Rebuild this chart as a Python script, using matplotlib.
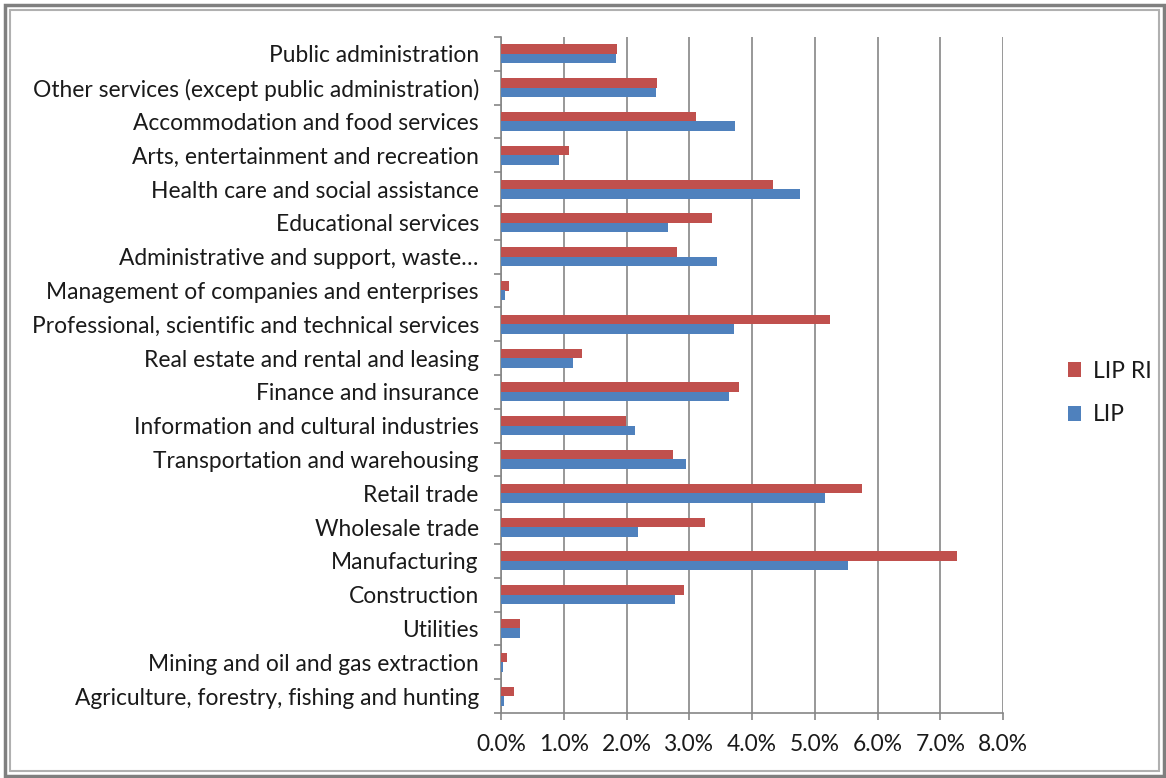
import matplotlib
matplotlib.use("Agg")
import matplotlib.pyplot as plt
import numpy as np
from matplotlib.patches import Rectangle
from matplotlib.ticker import FuncFormatter, FixedLocator

# Industry share (%), listed from top of chart to bottom
industries = [
    "Public administration",
    "Other services (except public administration)",
    "Accommodation and food services",
    "Arts, entertainment and recreation",
    "Health care and social assistance",
    "Educational services",
    "Administrative and support, waste\u2026",
    "Management of companies and enterprises",
    "Professional, scientific and technical services",
    "Real estate and rental and leasing",
    "Finance and insurance",
    "Information and cultural industries",
    "Transportation and warehousing",
    "Retail trade",
    "Wholesale trade",
    "Manufacturing",
    "Construction",
    "Utilities",
    "Mining and oil and gas extraction",
    "Agriculture, forestry, fishing and hunting",
]
lip_ri = [1.85, 2.49, 3.10, 1.08, 4.34, 3.37, 2.81, 0.12, 5.24, 1.29,
          3.79, 1.99, 2.74, 5.75, 3.25, 7.26, 2.91, 0.31, 0.10, 0.20]
lip = [1.83, 2.47, 3.73, 0.93, 4.77, 2.66, 3.45, 0.06, 3.72, 1.14,
       3.64, 2.13, 2.95, 5.17, 2.19, 5.53, 2.78, 0.31, 0.03, 0.04]
x_ticks = np.arange(0, 9)

RED = "#C0504D"
BLUE = "#4F81BD"
GRID = "#868686"
TEXT = "#1a1a1a"
FS = 16.4

plt.rcParams["font.family"] = ["Lato", "DejaVu Sans"]

fig = plt.figure(figsize=(11.66, 7.78), dpi=100)
W, H = 1166, 778
ax = fig.add_axes([501 / W, 1 - 713 / H, (1003 - 501) / W, (713 - 37) / H])

n = len(industries)
pos = np.arange(n)[::-1]
h = 0.28
ax.barh(pos + h / 2, lip_ri, height=h, color=RED, label="LIP RI", zorder=3)
ax.barh(pos - h / 2, lip, height=h, color=BLUE, label="LIP", zorder=3)

ax.set_ylim(-0.5, n - 0.5)
ax.set_xlim(0, 8)
ax.set_yticks(pos)
ax.set_yticklabels(industries, fontsize=FS, color=TEXT)
ax.yaxis.set_minor_locator(FixedLocator(np.arange(-0.5, n, 1.0)))
ax.tick_params(axis="y", which="major", length=0, pad=16)
ax.tick_params(axis="y", which="minor", length=5, color=GRID, width=1.2)
ax.set_xticks(x_ticks)
ax.xaxis.set_major_formatter(FuncFormatter(lambda v, _: f"{v:.1f}%"))
ax.tick_params(axis="x", length=5, color=GRID, width=1.2, labelsize=FS,
               labelcolor=TEXT, pad=10)
ax.grid(axis="x", color=GRID, linewidth=1.2, zorder=0)
for side in ("top", "right"):
    ax.spines[side].set_visible(False)
for side in ("left", "bottom"):
    ax.spines[side].set_color(GRID)
    ax.spines[side].set_linewidth(1.2)

handles, labels = ax.get_legend_handles_labels()
fig.legend(handles, labels, loc="center left", bbox_to_anchor=(1047 / W, 1 - 393 / H),
           frameon=False, fontsize=FS, handlelength=0.6, handleheight=0.6,
           labelspacing=1.0, handletextpad=0.5, labelcolor=TEXT)

# double grey border around the whole chart
fig.patches.append(Rectangle((5 / W, 2 / H), 1159 / W, 771 / H, transform=fig.transFigure,
                             fill=False, edgecolor="#7f7f7f", linewidth=2.5))
fig.patches.append(Rectangle((10 / W, 7 / H), 1149 / W, 761 / H, transform=fig.transFigure,
                             fill=False, edgecolor="#b0b0b0", linewidth=1.5))

fig.savefig("out.png", dpi=100, facecolor="white")
